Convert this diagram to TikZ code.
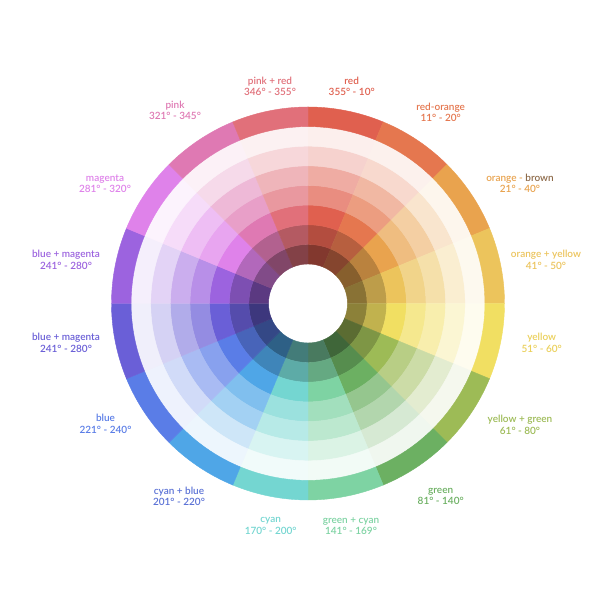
\documentclass[tikz,border=0pt]{standalone}
\usepackage{fontspec}
\setmainfont{Lato Semibold}
\begin{document}
\begin{tikzpicture}[x=1pt,y=1pt,
  lbl/.style={align=center, inner sep=1pt, font=\fontsize{10}{11.6}\selectfont}]
\fill[white] (0,0) rectangle (616,609);
\useasboundingbox (0,0) rectangle (616,609);
% base hues of the 16 sectors, clockwise from the top
\definecolor{s1}{HTML}{E0604F}
\definecolor{s2}{HTML}{E5774F}
\definecolor{s3}{HTML}{E9A34E}
\definecolor{s4}{HTML}{ECC45C}
\definecolor{s5}{HTML}{F1DF62}
\definecolor{s6}{HTML}{9DBB56}
\definecolor{s7}{HTML}{6CB062}
\definecolor{s8}{HTML}{7ED3A3}
\definecolor{s9}{HTML}{74D6D1}
\definecolor{s10}{HTML}{4FA6E7}
\definecolor{s11}{HTML}{5A7DE7}
\definecolor{s12}{HTML}{6A5FD7}
\definecolor{s13}{HTML}{9C63DF}
\definecolor{s14}{HTML}{DF82EA}
\definecolor{s15}{HTML}{DF79B3}
\definecolor{s16}{HTML}{E1707A}
\definecolor{brownc}{HTML}{8E6B4A}
\definecolor{yellowt}{HTML}{EBD05A}
\definecolor{cyanbluet}{HTML}{5B72D6}
\begin{scope}[shift={(308,305.5)}]
\foreach \i in {1,...,16}{
  \pgfmathsetmacro\a{90-22.5*(\i-1)}
  \pgfmathsetmacro\b{\a-22.5}
  \foreach \rin/\rout/\mx in {
     39.5/59.1/!58!black,
     59.1/78.7/!80!black,
     78.7/98.4/!100!white,
     98.4/118.0/!72!white,
     118.0/137.6/!52!white,
     137.6/157.3/!28!white,
     157.3/176.9/!10!white,
     176.9/196.5/!100!white}{
    \colorlet{tmpc}{s\i\mx}
    \fill[tmpc, draw=tmpc, line width=0.4pt]
      (\a:\rout) arc[start angle=\a, end angle=\b, radius=\rout]
      -- (\b:\rin) arc[start angle=\b, end angle=\a, radius=\rin] -- cycle;
  }
}
\end{scope}
% labels
\node[lbl, text=s16] (lpinkred) at (270,522.5) {pink + red\\346° - 355°};
\node[lbl, text=s1] (lred) at (351.7,522.5) {red\\355° - 10°};
\node[lbl, text=s2] (lredorange) at (440.7,496.7) {red-orange\\11° - 20°};
\node[lbl, text=s3] (lorangebrown) at (520,425.7) {orange - \textcolor{brownc}{brown}\\21° - 40°};
\node[lbl, text=s4] (lorangeyellow) at (546,349) {orange + yellow\\41° - 50°};
\node[lbl, text=yellowt] (lyellow) at (541.7,266.3) {yellow\\51° - 60°};
\node[lbl, text=s6] (lyellowgreen) at (520,184) {yellow + green\\61° - 80°};
\node[lbl, text=s7] (lgreen) at (440.7,112.7) {green\\81° - 140°};
\node[lbl, text=s8] (lgreencyan) at (351,83) {green + cyan\\141° - 169°};
\node[lbl, text=s9] (lcyan) at (270.7,83) {cyan\\170° - 200°};
\node[lbl, text=cyanbluet] (lcyanblue) at (179,112.7) {cyan + blue\\201° - 220°};
\node[lbl, text=s11] (lblue) at (105.5,185) {blue\\221° - 240°};
\node[lbl, text=s12] (lbluemag1) at (66,266) {blue + magenta\\241° - 280°};
\node[lbl, text=s13] (lbluemag2) at (66,349) {blue + magenta\\241° - 280°};
\node[lbl, text=s14] (lmagenta) at (105,425.2) {magenta\\281° - 320°};
\node[lbl, text=s15] (lpink) at (175,498.5) {pink\\321° - 345°};
\end{tikzpicture}
\end{document}
